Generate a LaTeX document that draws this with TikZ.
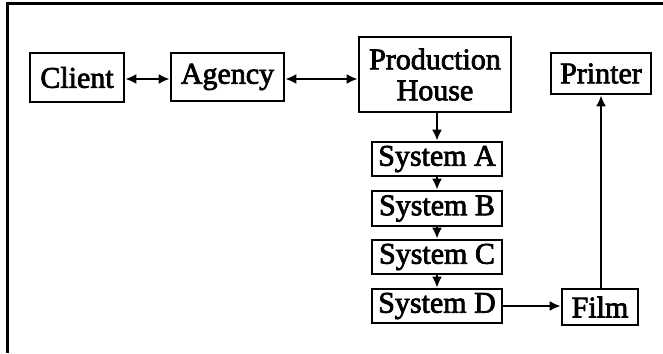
\documentclass[tikz,border=0pt]{standalone}
\usepackage{fontspec}
\setmainfont{Liberation Serif}[FakeBold=2.5]
\usetikzlibrary{arrows.meta}
\begin{document}
\begin{tikzpicture}[x=1pt,y=-1pt,
  box/.style={draw, line width=2.6pt, inner sep=0pt, align=center,
    font=\fontsize{30}{31}\selectfont},
  link/.style={line width=2.6pt, -{Latex[length=11pt,width=10pt]}},
  dlink/.style={line width=2.6pt, {Latex[length=11pt,width=10pt]}-{Latex[length=11pt,width=10pt]}},
  frame/.style={line width=3pt}]
  \useasboundingbox (0,0) rectangle (663,353);
  % partial frame (top and left edges)
  \coordinate (ftl) at (7,4);
  \coordinate (ftr) at (663,4);
  \coordinate (fbl) at (7,353);
  \draw[frame] (ftr) -- (ftl) -- (fbl);

  \node[box, minimum width=94pt, minimum height=49pt] (client) at (77,77.5) {Client};
  \node[box, minimum width=113pt, minimum height=48pt] (agency) at (227.5,77) {Agency};
  \node[box, minimum width=152pt, minimum height=75pt] (ph) at (435,74.5) {Production\\House};
  \node[box, minimum width=100pt, minimum height=41pt] (printer) at (601,73.5) {Printer};
  \node[box, minimum width=130pt, minimum height=34pt] (sa) at (437,159) {System A};
  \node[box, minimum width=130pt, minimum height=35pt] (sb) at (437,208.5) {System B};
  \node[box, minimum width=130pt, minimum height=34pt] (sc) at (437,257) {System C};
  \node[box, minimum width=130pt, minimum height=34pt] (sd) at (437,306) {System D};
  \node[box, minimum width=76pt, minimum height=36pt] (film) at (600,307) {Film};

  \draw[dlink] ([yshift=-1.5pt]client.east) -- ([yshift=-1.5pt]client.east -| agency.west);
  \draw[dlink] ([yshift=-2pt]agency.east) -- ([yshift=-2pt]agency.east -| ph.west);
  \draw[link] (ph.south -| sa.north) -- (sa.north);
  \draw[link] (sa) -- (sb);
  \draw[link] (sb) -- (sc);
  \draw[link] (sc) -- (sd);
  \draw[link] (sd.east) -- (sd.east -| film.west);
  \draw[link] (film.north -| printer.south) -- (printer.south);
\end{tikzpicture}
\end{document}
